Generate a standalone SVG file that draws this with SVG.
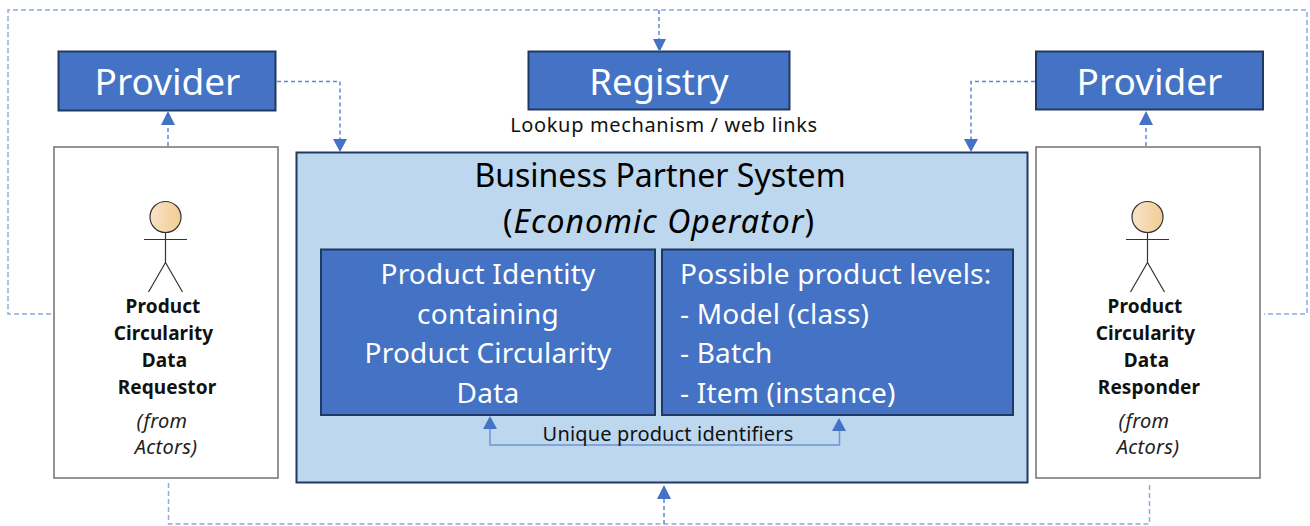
<svg xmlns="http://www.w3.org/2000/svg" width="1310" height="526" viewBox="0 0 1310 526">
<style>
text{font-family:"Noto Sans","Open Sans","Liberation Sans",sans-serif;text-anchor:middle}
.blue{fill:#4472c4;stroke:#203864;stroke-width:2}
.big{fill:#fff;font-size:37px}
.in{fill:#fff;font-size:28px;letter-spacing:.2px}
.st{fill:#000;font-size:32px}
.sm{fill:#111;font-size:20px}
.actor{fill:#fff;stroke:#707070;stroke-width:1.5}
.fig{fill:none;stroke:#333;stroke-width:1.2}
.b{fill:#111;font-size:19px;font-weight:700;letter-spacing:.1px}
.i{fill:#222;font-size:20px;font-style:italic;letter-spacing:.3px}
.dash{fill:none;stroke:#8faadc;stroke-width:1.5;stroke-dasharray:5 3}
.dash2{fill:none;stroke:#5f88d4;stroke-width:1.5;stroke-dasharray:4 3}
.solid{fill:none;stroke:#6f94d2;stroke-width:1.5}
.head{fill:#4472c4}
</style>
<defs>
<linearGradient id="skin"><stop offset="0" stop-color="#f8e3c8"/><stop offset="1" stop-color="#f2cc94"/></linearGradient>
</defs>
<g id="provider-left">
<rect class="blue" x="58.500" y="51.500" width="217" height="59"/>
<text class="big" x="167.500" y="95">Provider</text>
</g>
<g id="registry">
<rect class="blue" x="528.500" y="51.500" width="261" height="58"/>
<text class="big" x="659" y="95" style="font-size:36.500px">Registry</text>
<text class="sm" x="664" y="132" style="letter-spacing:.65px">Lookup mechanism / web links</text>
</g>
<g id="provider-right">
<rect class="blue" x="1036" y="51.500" width="227" height="58"/>
<text class="big" x="1149.500" y="95">Provider</text>
</g>
<g id="requestor">
<rect class="actor" x="54" y="147" width="224" height="331"/>
<circle cx="165.500" cy="217" r="15.500" fill="url(#skin)" stroke="#333" stroke-width="1.2"/>
<path class="fig" d="M144 239.500H187M165.500 233V262.500M165.500 262.500L148.500 292M165.500 262.500L182.500 292"/>
<text class="b" x="163" y="312.500">Product</text>
<text class="b" x="163.500" y="339.500">Circularity</text>
<text class="b" x="164.500" y="366.500">Data</text>
<text class="b" x="167" y="393.500">Requestor</text>
<text class="i" x="162" y="427.500">(from</text>
<text class="i" x="166" y="453.500">Actors)</text>
</g>
<g id="business-partner">
<rect x="296.500" y="152.500" width="731" height="330" fill="#bdd7ee" stroke="#203864" stroke-width="2"/>
<text class="st" x="660" y="187">Business Partner System</text>
<text class="st" x="659" y="233" style="letter-spacing:1px">(<tspan font-style="italic">Economic Operator</tspan>)</text>
</g>
<g id="product-identity">
<rect class="blue" x="321" y="249.500" width="334" height="165.500"/>
<text class="in" x="488" y="284">Product Identity</text>
<text class="in" x="488" y="324">containing</text>
<text class="in" x="488" y="363">Product Circularity</text>
<text class="in" x="488" y="403">Data</text>
</g>
<g id="product-levels">
<rect class="blue" x="662" y="249.500" width="351" height="165.500"/>
<text class="in" x="680" y="284" style="text-anchor:start">Possible product levels:</text>
<text class="in" x="680" y="324" style="text-anchor:start">- Model (class)</text>
<text class="in" x="680" y="363" style="text-anchor:start">- Batch</text>
<text class="in" x="680" y="403" style="text-anchor:start">- Item (instance)</text>
</g>
<g id="responder">
<rect class="actor" x="1036" y="147" width="224" height="331"/>
<circle cx="1147.500" cy="217" r="15.500" fill="url(#skin)" stroke="#333" stroke-width="1.2"/>
<path class="fig" d="M1126 239.500H1169M1147.500 233V262.500M1147.500 262.500L1130.500 292M1147.500 262.500L1164.500 292"/>
<text class="b" x="1145" y="312.500">Product</text>
<text class="b" x="1145.500" y="339.500">Circularity</text>
<text class="b" x="1146.500" y="366.500">Data</text>
<text class="b" x="1149" y="393.500">Responder</text>
<text class="i" x="1144" y="427.500">(from</text>
<text class="i" x="1148" y="453.500">Actors)</text>
</g>
<g id="connectors">
<path class="dash" d="M51 314H8V10H1307V314H1264"/>
<path class="dash2" d="M659 10V42"/>
<path class="dash2" d="M168 146V124"/>
<path class="dash2" d="M1146 146V124"/>
<path class="dash2" d="M277 81.500H340V140"/>
<path class="dash2" d="M1035 81.500H971V140"/>
<path class="dash" d="M168.500 483V524H1149.500V483"/>
<path class="dash2" d="M664 524V496"/>
<path class="solid" d="M490 428V445H839.500V428"/>
<path class="head" d="M653 39H666L659.500 52Z"/>
<path class="head" d="M161 125H175L168 111Z"/>
<path class="head" d="M1139 125H1153L1146 111Z"/>
<path class="head" d="M333 139H347L340 152Z"/>
<path class="head" d="M964 139H978L971 152Z"/>
<path class="head" d="M657 499H671L664 485Z"/>
<path class="head" d="M483 429H497L490 416Z"/>
<path class="head" d="M832 431H846L839 418Z"/>
</g>
<text id="identifiers-label" class="sm" x="668" y="440.500" style="letter-spacing:.15px">Unique product identifiers</text>
</svg>
